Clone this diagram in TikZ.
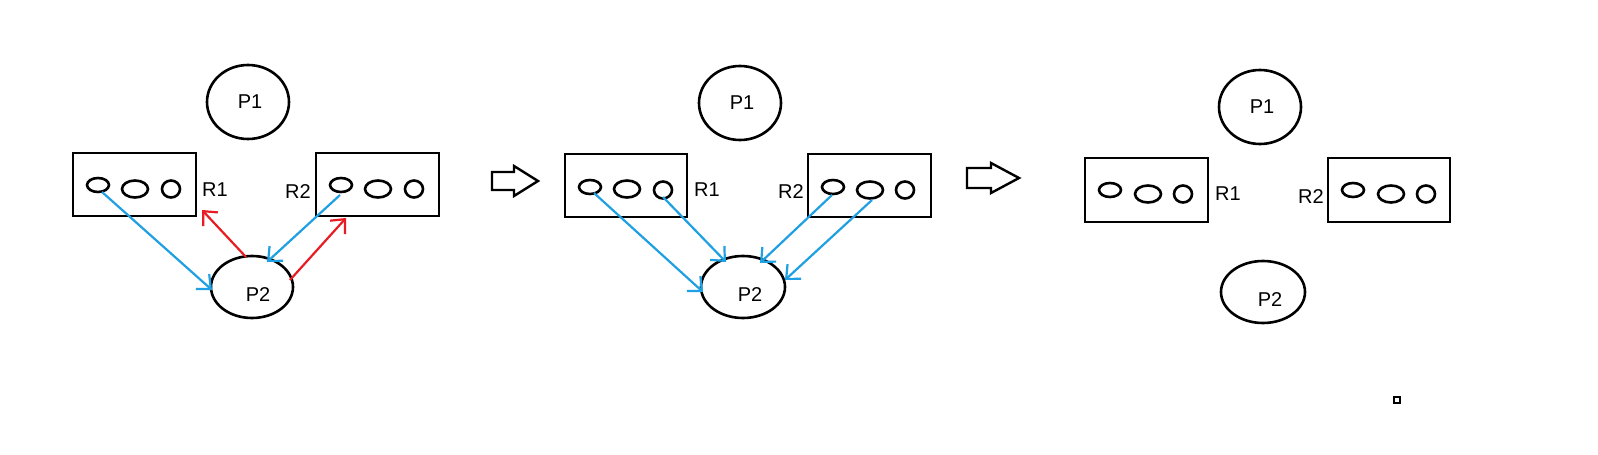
\documentclass[tikz,border=0pt]{standalone}
\usepackage{fontspec}
\setmainfont{Liberation Sans}
\usetikzlibrary{arrows.meta}
\begin{document}
\begin{tikzpicture}[x=1pt,y=-1pt,
  blk/.style={line width=2.6pt,draw=black},
  lbl/.style={font=\fontsize{20}{24}\selectfont,inner sep=0pt},
  bl/.style={draw={rgb,255:red,30;green,160;blue,226},line width=2.2pt,-{Straight Barb[length=11pt,width=20pt]}},
  rd/.style={draw={rgb,255:red,232;green,28;blue,36},line width=2.2pt,-{Straight Barb[length=11pt,width=20pt]}},
  bigarrow/.style={line width=2.4pt,draw=black,line join=miter}]
\useasboundingbox (0,0) rectangle (1598,455);
\fill[white] (0,0) rectangle (1598,455);
% ---------- panel 1 ----------
\draw[blk] (248,102) ellipse (41 and 37); \node[lbl] (p1a) at (250,102) {P1};
\draw[blk] (73,153) rectangle (196,216); \node[lbl] (r1a) at (215,190) {R1};
\draw[blk] (316,153) rectangle (439,216); \node[lbl] (r2a) at (298,192) {R2};
\draw[blk] (98,185) ellipse (11 and 7); \draw[blk] (135,189) ellipse (13 and 8.5); \draw[blk] (171,189) ellipse (9 and 8.5);
\draw[blk] (341,185) ellipse (11 and 7); \draw[blk] (378,189) ellipse (13 and 8.5); \draw[blk] (414,189) ellipse (9 and 8.5);
\draw[blk] (252,287) ellipse (41 and 31); \node[lbl] (p2a) at (258,295) {P2};
\coordinate (a1) at (102,192); \coordinate (a2) at (212,290);
\coordinate (a3) at (340,195); \coordinate (a4) at (267,262);
\coordinate (a5) at (246,257); \coordinate (a6) at (202,210);
\coordinate (a7) at (290,280); \coordinate (a8) at (346,218);
\draw[bl] (a1) -- (a2); \draw[bl] (a3) -- (a4);
\draw[rd] (a5) -- (a6); \draw[rd] (a7) -- (a8);
\draw[bigarrow] (492,172) -- (514,172) -- (514,166) -- (538,181) -- (514,196) -- (514,190) -- (492,190) -- cycle;
% ---------- panel 2 ----------
\draw[blk] (740,103) ellipse (41 and 37); \node[lbl] (p1b) at (742,103) {P1};
\draw[blk] (565,154) rectangle (687,217); \node[lbl] (r1b) at (707,190) {R1};
\draw[blk] (808,154) rectangle (931,217); \node[lbl] (r2b) at (791,192) {R2};
\draw[blk] (590,187) ellipse (11 and 7); \draw[blk] (627,189) ellipse (13 and 8.5); \draw[blk] (663,190) ellipse (9 and 8.5);
\draw[blk] (833,187) ellipse (11 and 7); \draw[blk] (870,190) ellipse (13 and 8.5); \draw[blk] (905,190) ellipse (9 and 8.5);
\draw[blk] (743,287) ellipse (42 and 31); \node[lbl] (p2b) at (750,295) {P2};
\coordinate (b1) at (594,193); \coordinate (b2) at (703,292);
\coordinate (b3) at (663,197); \coordinate (b4) at (726,262);
\coordinate (b5) at (832,195); \coordinate (b6) at (760,263);
\coordinate (b7) at (872,200); \coordinate (b8) at (785,280);
\draw[bl] (b1) -- (b2); \draw[bl] (b3) -- (b4); \draw[bl] (b5) -- (b6); \draw[bl] (b7) -- (b8);
\draw[bigarrow] (967,168) -- (991,168) -- (991,163) -- (1019,178) -- (991,193) -- (991,188) -- (967,188) -- cycle;
% ---------- panel 3 ----------
\draw[blk] (1260,107) ellipse (41 and 37); \node[lbl] (p1c) at (1262,107) {P1};
\draw[blk] (1085,158) rectangle (1208,222); \node[lbl] (r1c) at (1228,194) {R1};
\draw[blk] (1328,158) rectangle (1450,222); \node[lbl] (r2c) at (1311,197) {R2};
\draw[blk] (1110,190) ellipse (11 and 7); \draw[blk] (1148,194) ellipse (13 and 8.5); \draw[blk] (1183,194) ellipse (9 and 8.5);
\draw[blk] (1353,190) ellipse (11 and 7); \draw[blk] (1391,194) ellipse (13 and 8.5); \draw[blk] (1426,194) ellipse (9 and 8.5);
\draw[blk] (1263,292) ellipse (42 and 31); \node[lbl] (p2c) at (1270,300) {P2};
\draw[line width=1.3pt] (1394,397) rectangle (1400,403);
\end{tikzpicture}
\end{document}
